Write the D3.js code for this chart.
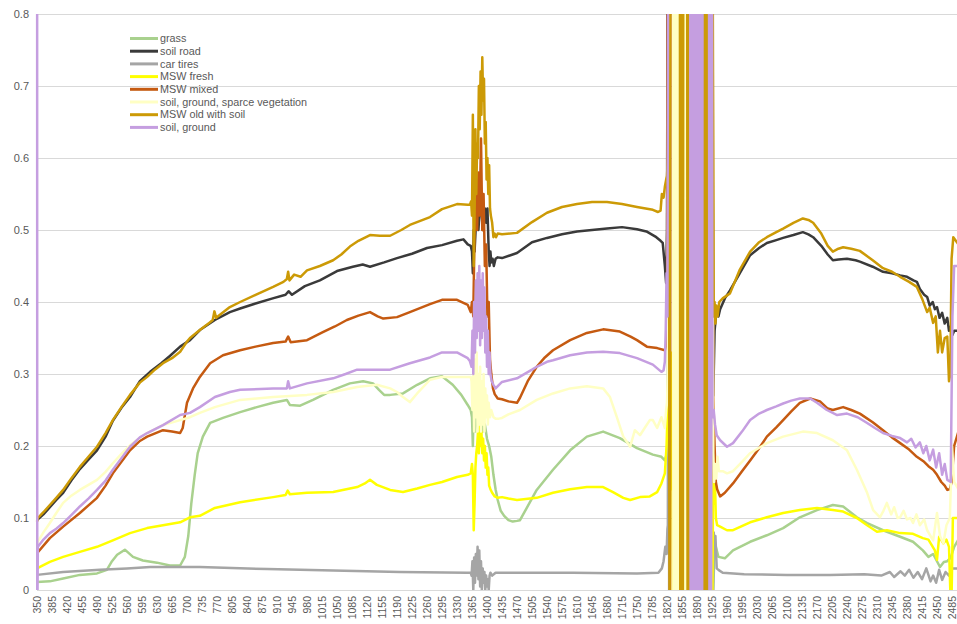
<!DOCTYPE html>
<html>
<head>
<meta charset="utf-8">
<script src="https://cdn.jsdelivr.net/npm/d3@7"></script>
<style>
  body { margin: 0; background: #fff; }
  svg { display: block; }
  text { font-family: "Liberation Sans", Arial, sans-serif; fill: #595959; }
</style>
</head>
<body>
<svg id="chart" width="957" height="624"></svg>
<script>
// Wavelength (nm) tick labels along the category axis
const wavelengthLabels = [350,385,420,455,490,525,560,595,630,665,700,735,770,805,840,875,910,945,980,1015,1050,1085,1120,1155,1190,1225,1260,1295,1330,1365,1400,1435,1470,1505,1540,1575,1610,1645,1680,1715,1750,1785,1820,1855,1890,1925,1960,1995,2030,2065,2100,2135,2170,2205,2240,2275,2310,2345,2380,2415,2450,2485];
const reflectanceTicks = [0, 0.1, 0.2, 0.3, 0.4, 0.5, 0.6, 0.7, 0.8];

const seriesNames = ["grass", "soil road", "car tires", "MSW fresh", "MSW mixed",
  "soil, ground, sparce vegetation", "MSW old with soil", "soil, ground"];

// Reflectance spectra as [wavelength nm, reflectance]
const grass = [[350,0.011],[380,0.012],[411,0.016],[450,0.021],[490,0.023],[513,0.028],[525,0.04],[537,0.049],[555,0.056],[574,0.046],[597,0.041],[630,0.038],[660,0.034],[684,0.034],[695,0.046],[703,0.075],[710,0.12],[718,0.16],[725,0.19],[737,0.213],[754,0.232],[784,0.239],[824,0.247],[863,0.254],[901,0.26],[933,0.264],[940,0.257],[964,0.256],[994,0.264],[1041,0.278],[1080,0.287],[1111,0.29],[1134,0.287],[1148,0.278],[1160,0.271],[1174,0.271],[1204,0.273],[1237,0.285],[1267,0.294],[1295,0.297],[1320,0.285],[1340,0.271],[1355,0.257],[1362,0.25],[1365,0.24],[1367,0.2],[1369,0.26],[1372,0.22],[1376,0.25],[1380,0.22],[1385,0.24],[1390,0.22],[1395,0.23],[1400,0.21],[1405,0.2],[1410,0.185],[1415,0.16],[1420,0.14],[1425,0.125],[1432,0.11],[1440,0.103],[1450,0.097],[1460,0.095],[1470,0.096],[1477,0.097],[1516,0.139],[1554,0.167],[1594,0.194],[1633,0.213],[1671,0.22],[1710,0.211],[1750,0.197],[1787,0.188],[1807,0.185],[1815,0.18],[1820,0.19],[1822,0.23],[1824,1.0],[1826,-0.02],[1927,-0.02],[1930,0.04],[1934,0.06],[1940,0.046],[1955,0.044],[1974,0.055],[2014,0.067],[2053,0.076],[2091,0.086],[2130,0.101],[2170,0.111],[2207,0.118],[2231,0.116],[2263,0.101],[2287,0.093],[2324,0.083],[2364,0.074],[2394,0.067],[2417,0.055],[2430,0.046],[2441,0.05],[2457,0.032],[2466,0.039],[2474,0.04],[2482,0.045],[2490,0.06],[2500,0.07]];

const soilRoad = [[350,0.097],[365,0.105],[380,0.115],[395,0.125],[411,0.135],[430,0.152],[450,0.168],[470,0.181],[490,0.194],[510,0.213],[527,0.235],[547,0.253],[567,0.268],[590,0.29],[614,0.303],[640,0.315],[660,0.325],[684,0.338],[707,0.347],[730,0.361],[765,0.375],[800,0.386],[824,0.391],[860,0.398],[900,0.405],[930,0.41],[937,0.415],[945,0.41],[975,0.422],[1010,0.43],[1050,0.443],[1087,0.449],[1110,0.452],[1127,0.449],[1160,0.455],[1190,0.461],[1225,0.467],[1260,0.475],[1295,0.479],[1330,0.485],[1345,0.487],[1355,0.48],[1362,0.478],[1365,0.47],[1367,0.44],[1369,0.5],[1371,0.47],[1375,0.52],[1380,0.5],[1385,0.55],[1390,0.5],[1395,0.53],[1398,0.51],[1401,0.53],[1404,0.47],[1406,0.45],[1408,0.47],[1410,0.455],[1413,0.46],[1416,0.45],[1420,0.46],[1425,0.462],[1435,0.461],[1470,0.468],[1505,0.483],[1540,0.489],[1575,0.494],[1610,0.498],[1645,0.5],[1680,0.502],[1715,0.504],[1750,0.501],[1772,0.498],[1795,0.49],[1805,0.485],[1810,0.482],[1815,0.45],[1818,0.426],[1820,0.5],[1822,1.0],[1925,1.0],[1928,0.27],[1931,0.36],[1935,0.385],[1940,0.38],[1944,0.39],[1955,0.405],[1967,0.416],[1990,0.44],[2014,0.465],[2035,0.475],[2053,0.482],[2075,0.486],[2091,0.489],[2115,0.493],[2137,0.497],[2150,0.494],[2161,0.49],[2180,0.478],[2195,0.466],[2207,0.458],[2220,0.459],[2240,0.46],[2260,0.458],[2270,0.456],[2300,0.449],[2324,0.442],[2345,0.44],[2364,0.437],[2380,0.435],[2395,0.43],[2403,0.428],[2410,0.418],[2420,0.41],[2427,0.407],[2433,0.395],[2440,0.4],[2445,0.39],[2450,0.393],[2456,0.378],[2462,0.385],[2468,0.37],[2474,0.378],[2478,0.36],[2482,0.366],[2486,0.354],[2490,0.36],[2500,0.36]];

const carTires = [[350,0.021],[411,0.025],[497,0.028],[560,0.03],[614,0.032],[730,0.032],[887,0.029],[1041,0.027],[1197,0.025],[1353,0.024],[1362,0.024],[1364,0.02],[1366,0.04],[1368,0.0],[1370,0.045],[1372,0.01],[1374,0.05],[1376,0.02],[1378,0.06],[1380,0.015],[1382,0.055],[1384,0.005],[1386,0.04],[1388,0.0],[1390,0.03],[1392,0.01],[1394,0.025],[1396,0.0],[1398,0.02],[1400,0.005],[1402,0.015],[1404,0.0],[1406,0.02],[1408,0.024],[1412,0.02],[1420,0.024],[1440,0.024],[1600,0.024],[1750,0.023],[1800,0.024],[1808,0.03],[1812,0.04],[1816,0.06],[1819,0.05],[1821,0.085],[1822,0.09],[1824,1.0],[1825,-0.02],[1927,-0.02],[1929,0.08],[1931,0.06],[1933,0.075],[1936,0.03],[1940,0.028],[1950,0.024],[2000,0.022],[2100,0.021],[2200,0.021],[2280,0.022],[2320,0.02],[2340,0.025],[2350,0.018],[2365,0.026],[2375,0.02],[2385,0.028],[2395,0.017],[2405,0.025],[2415,0.015],[2425,0.03],[2435,0.012],[2441,0.02],[2448,0.01],[2455,0.028],[2462,0.014],[2470,0.025],[2478,0.02],[2485,0.03],[2500,0.03]];

const mswFresh = [[350,0.03],[380,0.039],[411,0.046],[450,0.053],[490,0.06],[527,0.069],[567,0.079],[607,0.086],[644,0.09],[684,0.094],[707,0.101],[730,0.103],[765,0.114],[824,0.122],[901,0.129],[930,0.132],[935,0.138],[940,0.133],[980,0.135],[1041,0.136],[1097,0.143],[1115,0.148],[1127,0.153],[1143,0.146],[1174,0.139],[1204,0.136],[1237,0.141],[1267,0.146],[1295,0.15],[1330,0.157],[1355,0.16],[1362,0.162],[1365,0.175],[1367,0.16],[1369,0.083],[1371,0.12],[1373,0.17],[1375,0.19],[1377,0.2],[1379,0.22],[1381,0.19],[1383,0.23],[1385,0.2],[1387,0.22],[1389,0.19],[1391,0.21],[1393,0.18],[1395,0.2],[1397,0.17],[1399,0.19],[1401,0.16],[1403,0.17],[1405,0.145],[1408,0.14],[1412,0.135],[1418,0.13],[1425,0.128],[1435,0.129],[1450,0.127],[1470,0.125],[1516,0.128],[1554,0.135],[1594,0.14],[1633,0.143],[1671,0.143],[1694,0.136],[1718,0.128],[1734,0.125],[1757,0.129],[1780,0.13],[1797,0.136],[1807,0.148],[1815,0.162],[1819,0.2],[1822,0.26],[1826,0.26],[1829,0.33],[1831,0.14],[1832,0.3],[1834,-0.02],[1926,-0.02],[1928,0.2],[1930,0.12],[1932,0.15],[1934,0.1],[1937,0.09],[1944,0.088],[1960,0.083],[1974,0.083],[2014,0.094],[2053,0.101],[2091,0.107],[2130,0.111],[2170,0.114],[2207,0.111],[2231,0.109],[2263,0.1],[2287,0.09],[2310,0.081],[2333,0.083],[2364,0.079],[2394,0.078],[2417,0.072],[2430,0.07],[2445,0.055],[2450,0.042],[2455,0.074],[2465,0.065],[2472,0.07],[2478,0.06],[2481,0.0],[2484,-0.01],[2487,0.1],[2500,0.1]];

const mswMixed = [[350,0.051],[380,0.072],[411,0.088],[450,0.107],[490,0.128],[510,0.145],[527,0.162],[547,0.178],[567,0.194],[590,0.207],[607,0.213],[644,0.222],[665,0.22],[684,0.218],[690,0.225],[700,0.26],[714,0.28],[730,0.296],[754,0.315],[784,0.326],[824,0.333],[860,0.338],[901,0.343],[930,0.345],[936,0.352],[942,0.344],[980,0.347],[1017,0.358],[1045,0.366],[1073,0.375],[1100,0.381],[1127,0.386],[1145,0.38],[1158,0.377],[1190,0.379],[1220,0.386],[1267,0.397],[1295,0.403],[1330,0.403],[1355,0.396],[1362,0.386],[1365,0.4],[1368,0.38],[1371,0.5],[1374,0.55],[1377,0.5],[1380,0.58],[1383,0.52],[1386,0.627],[1389,0.5],[1392,0.55],[1395,0.45],[1398,0.48],[1401,0.38],[1404,0.4],[1407,0.32],[1410,0.3],[1414,0.28],[1418,0.272],[1425,0.266],[1435,0.265],[1450,0.262],[1470,0.26],[1477,0.267],[1495,0.29],[1516,0.31],[1535,0.323],[1554,0.333],[1594,0.347],[1633,0.357],[1671,0.362],[1710,0.359],[1735,0.352],[1750,0.347],[1773,0.338],[1797,0.336],[1815,0.333],[1818,0.34],[1820,0.36],[1822,1.0],[1826,1.0],[1827,-0.02],[1828,1.0],[1859.5,1.0],[1860,-0.02],[1860.5,1.0],[1902,1.0],[1903,-0.02],[1904,1.0],[1926,1.0],[1928,0.27],[1931,0.2],[1934,0.15],[1937,0.14],[1944,0.13],[1955,0.135],[1974,0.148],[1995,0.165],[2014,0.18],[2035,0.197],[2053,0.213],[2075,0.226],[2091,0.236],[2110,0.248],[2130,0.26],[2154,0.266],[2177,0.262],[2195,0.252],[2207,0.25],[2231,0.254],[2250,0.25],[2270,0.245],[2300,0.233],[2324,0.222],[2345,0.212],[2364,0.204],[2385,0.195],[2403,0.185],[2420,0.178],[2430,0.172],[2441,0.167],[2450,0.16],[2460,0.15],[2468,0.145],[2474,0.139],[2480,0.14],[2484,0.15],[2490,0.2],[2500,0.22]];

const soilGroundSparse = [[350,0.065],[365,0.08],[380,0.093],[395,0.107],[411,0.121],[430,0.131],[450,0.139],[470,0.146],[490,0.153],[510,0.164],[527,0.176],[547,0.189],[567,0.201],[590,0.211],[607,0.218],[644,0.229],[684,0.236],[707,0.24],[730,0.246],[765,0.254],[824,0.264],[901,0.268],[980,0.271],[1041,0.275],[1097,0.282],[1143,0.285],[1174,0.28],[1190,0.275],[1204,0.268],[1220,0.261],[1237,0.273],[1267,0.292],[1295,0.296],[1330,0.296],[1362,0.296],[1364,0.29],[1366,0.25],[1368,0.3],[1370,0.22],[1372,0.32],[1374,0.24],[1376,0.33],[1378,0.22],[1380,0.3],[1382,0.23],[1384,0.31],[1386,0.22],[1388,0.29],[1390,0.23],[1392,0.3],[1394,0.22],[1396,0.28],[1398,0.24],[1400,0.27],[1402,0.23],[1404,0.26],[1407,0.24],[1410,0.25],[1415,0.24],[1420,0.238],[1428,0.238],[1435,0.239],[1450,0.244],[1477,0.25],[1516,0.264],[1554,0.273],[1594,0.28],[1633,0.283],[1671,0.28],[1687,0.268],[1703,0.24],[1718,0.213],[1734,0.199],[1745,0.222],[1757,0.215],[1769,0.226],[1780,0.236],[1787,0.236],[1797,0.225],[1807,0.24],[1815,0.225],[1818,0.25],[1820,0.26],[1822,0.3],[1824,1.0],[1834,1.0],[1835,-0.02],[1837,1.0],[1839,-0.02],[1841,1.0],[1843,-0.02],[1845,1.0],[1847,-0.02],[1849,1.0],[1851,-0.02],[1852,1.0],[1860,1.0],[1861,-0.02],[1863,1.0],[1865,-0.02],[1867,1.0],[1901,1.0],[1902,-0.02],[1903,1.0],[1904,-0.02],[1905,1.0],[1926,1.0],[1928,0.19],[1930,0.15],[1932,0.175],[1935,0.155],[1938,0.185],[1941,0.165],[1950,0.165],[1960,0.162],[1974,0.165],[1995,0.178],[2014,0.19],[2053,0.204],[2091,0.213],[2137,0.22],[2170,0.218],[2207,0.208],[2240,0.194],[2263,0.167],[2287,0.135],[2301,0.111],[2317,0.101],[2325,0.11],[2333,0.121],[2343,0.105],[2350,0.115],[2358,0.1],[2364,0.101],[2372,0.11],[2380,0.098],[2388,0.1],[2394,0.093],[2402,0.105],[2410,0.09],[2420,0.098],[2427,0.083],[2435,0.075],[2441,0.069],[2450,0.107],[2457,0.075],[2465,0.065],[2472,0.09],[2480,0.1],[2485,0.2],[2490,0.15],[2500,0.14]];

const mswOldWithSoil = [[350,0.095],[352,0.1],[365,0.108],[380,0.118],[395,0.128],[411,0.139],[430,0.155],[450,0.171],[470,0.185],[490,0.199],[510,0.218],[527,0.236],[547,0.254],[567,0.271],[590,0.288],[607,0.296],[625,0.306],[644,0.315],[665,0.322],[684,0.331],[700,0.345],[707,0.35],[730,0.361],[750,0.37],[760,0.375],[764,0.387],[768,0.378],[800,0.393],[824,0.4],[860,0.41],[901,0.421],[925,0.428],[933,0.432],[936,0.442],[939,0.43],[950,0.438],[965,0.435],[980,0.444],[1010,0.45],[1041,0.458],[1060,0.466],[1080,0.477],[1100,0.485],[1127,0.493],[1150,0.492],[1174,0.492],[1200,0.5],[1220,0.507],[1267,0.518],[1295,0.529],[1330,0.536],[1355,0.535],[1360,0.535],[1363,0.54],[1365,0.52],[1367,0.66],[1369,0.45],[1371,0.52],[1373,0.64],[1375,0.55],[1377,0.62],[1379,0.6],[1381,0.7],[1383,0.64],[1385,0.72],[1387,0.66],[1389,0.74],[1391,0.68],[1393,0.71],[1395,0.62],[1397,0.65],[1399,0.57],[1401,0.6],[1403,0.55],[1405,0.59],[1407,0.53],[1409,0.52],[1412,0.51],[1415,0.49],[1418,0.495],[1421,0.49],[1425,0.495],[1435,0.494],[1470,0.496],[1505,0.511],[1540,0.524],[1575,0.532],[1610,0.536],[1645,0.539],[1680,0.539],[1715,0.536],[1750,0.532],[1787,0.528],[1799,0.525],[1805,0.527],[1808,0.55],[1812,0.545],[1815,0.56],[1818,0.57],[1820,0.575],[1822,0.6],[1824,1.0],[1826,-0.02],[1828,1.0],[1850,1.0],[1851,-0.02],[1852,1.0],[1853,-0.02],[1854,1.0],[1855,-0.02],[1856,1.0],[1857,-0.02],[1858,1.0],[1867,1.0],[1868,-0.02],[1869,1.0],[1870,-0.02],[1871,1.0],[1872,-0.02],[1873,1.0],[1904,1.0],[1905,-0.02],[1906,1.0],[1907,-0.02],[1908,1.0],[1909,-0.02],[1910,1.0],[1911,-0.02],[1912,1.0],[1913,-0.02],[1914,1.0],[1915,-0.02],[1916,1.0],[1917,-0.02],[1918,1.0],[1926,1.0],[1929,0.38],[1931,0.4],[1933,0.37],[1935,0.395],[1938,0.38],[1942,0.4],[1950,0.405],[1967,0.412],[1990,0.445],[2014,0.47],[2035,0.483],[2053,0.49],[2075,0.497],[2091,0.502],[2115,0.51],[2137,0.516],[2150,0.514],[2161,0.51],[2180,0.495],[2195,0.478],[2207,0.47],[2220,0.474],[2231,0.476],[2250,0.474],[2270,0.471],[2300,0.458],[2324,0.447],[2345,0.442],[2364,0.435],[2385,0.428],[2403,0.421],[2415,0.405],[2427,0.386],[2433,0.392],[2441,0.371],[2447,0.38],[2452,0.33],[2457,0.36],[2462,0.33],[2468,0.35],[2474,0.352],[2478,0.29],[2481,0.3],[2484,0.46],[2488,0.49],[2500,0.48]];

const soilGround = [[350,2.0],[350.6,-0.05],[352,0.06],[365,0.07],[380,0.079],[395,0.085],[411,0.093],[430,0.104],[450,0.116],[470,0.127],[490,0.139],[510,0.152],[527,0.167],[547,0.183],[567,0.199],[590,0.212],[607,0.218],[644,0.229],[684,0.243],[707,0.246],[730,0.254],[765,0.268],[800,0.275],[824,0.278],[901,0.28],[933,0.28],[936,0.29],[940,0.28],[980,0.287],[1041,0.294],[1070,0.3],[1097,0.306],[1143,0.306],[1174,0.306],[1220,0.315],[1267,0.323],[1295,0.33],[1330,0.33],[1355,0.322],[1360,0.318],[1364,0.31],[1366,0.36],[1368,0.3],[1370,0.4],[1372,0.33],[1374,0.43],[1376,0.35],[1378,0.44],[1380,0.36],[1382,0.45],[1384,0.34],[1386,0.43],[1388,0.35],[1390,0.44],[1392,0.36],[1394,0.42],[1396,0.33],[1398,0.38],[1400,0.31],[1402,0.36],[1404,0.3],[1406,0.33],[1408,0.3],[1411,0.29],[1415,0.285],[1420,0.28],[1428,0.285],[1435,0.289],[1470,0.294],[1505,0.306],[1516,0.31],[1540,0.317],[1554,0.319],[1594,0.326],[1633,0.33],[1671,0.331],[1710,0.329],[1750,0.322],[1787,0.313],[1807,0.303],[1812,0.305],[1815,0.317],[1817,0.36],[1819,0.44],[1821,0.38],[1823,1.0],[1874,1.0],[1875,-0.02],[1877,1.0],[1879,-0.02],[1881,1.0],[1883,-0.02],[1885,1.0],[1887,-0.02],[1889,1.0],[1891,-0.02],[1893,1.0],[1895,-0.02],[1897,1.0],[1899,-0.02],[1901,1.0],[1902,-0.02],[1903,1.0],[1918,1.0],[1919,-0.02],[1921,1.0],[1923,-0.02],[1925,1.0],[1926,0.24],[1929,0.25],[1932,0.23],[1936,0.215],[1944,0.208],[1960,0.199],[1974,0.204],[1995,0.22],[2014,0.236],[2035,0.245],[2053,0.25],[2075,0.255],[2091,0.259],[2110,0.263],[2130,0.266],[2154,0.266],[2170,0.26],[2193,0.25],[2217,0.243],[2240,0.245],[2265,0.24],[2287,0.232],[2305,0.225],[2324,0.218],[2345,0.214],[2364,0.211],[2380,0.205],[2390,0.21],[2400,0.198],[2410,0.205],[2418,0.19],[2425,0.2],[2433,0.18],[2441,0.195],[2448,0.17],[2455,0.19],[2462,0.16],[2468,0.175],[2474,0.153],[2482,0.15],[2486,0.38],[2490,0.45],[2500,0.45]];

const seriesData = [grass, soilRoad, carTires, mswFresh, mswMixed, soilGroundSparse, mswOldWithSoil, soilGround];
const seriesColors = ["#a9d18e", "#3a3a3a", "#a5a5a5", "#ffff00", "#c55a11", "#ffffc4", "#cc9a06", "#c59ee0"];

const svg = d3.select("#chart");
const plot = { left: 37, right: 952, top: 14, bottom: 590 };

const x = d3.scaleLinear().domain([350, 2485]).range([plot.left, plot.right]);
const y = d3.scaleLinear().domain([0, 0.8]).range([plot.bottom, plot.top]);

// horizontal gridlines
svg.append("g").selectAll("line").data(reflectanceTicks).join("line")
  .attr("x1", plot.left).attr("x2", 957)
  .attr("y1", d => y(d)).attr("y2", d => y(d))
  .attr("stroke", "#d9d9d9").attr("stroke-width", 1).attr("shape-rendering", "crispEdges");

// y axis labels
svg.append("g").selectAll("text").data(reflectanceTicks).join("text")
  .attr("x", 29).attr("y", d => y(d)).attr("dy", "0.35em")
  .attr("text-anchor", "end").attr("font-size", "11px")
  .text(d => d === 0 ? "0" : d.toFixed(1));

// x axis labels, rotated
svg.append("g").selectAll("text").data(wavelengthLabels).join("text")
  .attr("transform", d => `translate(${x(d)},596) rotate(-90)`)
  .attr("dy", "0.35em").attr("text-anchor", "end").attr("font-size", "10.5px")
  .text(d => d);

// plot-area clip
svg.append("defs").append("clipPath").attr("id", "plotClip")
  .append("rect").attr("x", 30).attr("y", plot.top).attr("width", 957 - 30).attr("height", plot.bottom - plot.top);

const line = d3.line().x(d => x(d[0])).y(d => y(d[1]));

svg.append("g").attr("clip-path", "url(#plotClip)")
  .selectAll("path").data(seriesData).join("path")
  .attr("d", d => line(d))
  .attr("fill", "none")
  .attr("stroke", (d, i) => seriesColors[i])
  .attr("stroke-width", 2.5)
  .attr("stroke-linejoin", "round");

// legend
const legend = svg.append("g");
seriesNames.forEach((name, i) => {
  const ly = 38.5 + i * 12.7;
  legend.append("line").attr("x1", 130).attr("x2", 158).attr("y1", ly).attr("y2", ly)
    .attr("stroke", seriesColors[i]).attr("stroke-width", 3);
  legend.append("text").attr("x", 160).attr("y", ly).attr("dy", "0.35em")
    .attr("font-size", "10.8px").text(name);
});
</script>
</body>
</html>
